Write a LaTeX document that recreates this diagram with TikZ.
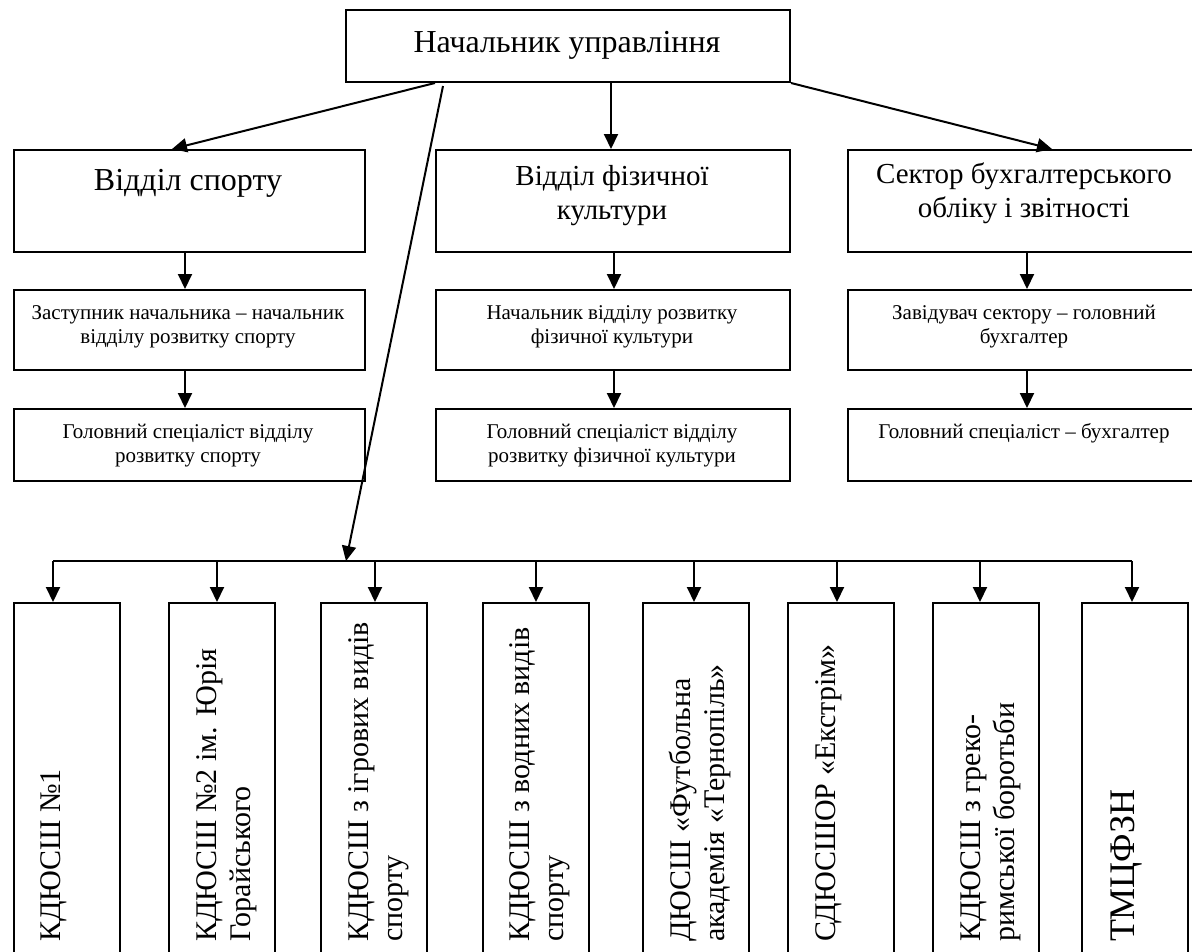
\documentclass[tikz,border=0pt]{standalone}
\usepackage{fontspec}
\setmainfont{Liberation Serif}
\usetikzlibrary{arrows.meta}
\newcommand\lnup{\rule{0pt}{0.9em}}
\begin{document}
\begin{tikzpicture}[x=1pt,y=-1pt,
  box/.style 2 args={draw, line width=2pt, anchor=north west, inner sep=0pt, minimum width=#1, minimum height=#2},
  conn/.style={line width=2pt},
  arr/.style={conn, -{Triangle[length=15pt,width=14pt]}},
  lbl/.style={inner sep=0pt, anchor=north, align=center},
  vlbl/.style={inner sep=0pt, anchor=north west, align=left, rotate=90},
  fA/.style={font=\fontsize{32}{36}\selectfont},
  fB/.style={font=\fontsize{29}{34.5}\selectfont},
  fC/.style={font=\fontsize{21}{24.5}\selectfont},
  fD/.style={font=\fontsize{30}{34}\selectfont},
  fE/.style={font=\fontsize{36}{40}\selectfont},
]
\path[use as bounding box] (0,0) rectangle (1192,951);
\clip (0,0) rectangle (1192,951);

% top
\node[box={444pt}{72pt}] (top) at (345,9) {};
\node[lbl,fA] (topt) at (567,23.2) {\lnup Начальник управління};

% level 2
\node[box={351pt}{102pt}] (d1) at (12.6,149) {};
\node[box={354pt}{102pt}] (d2) at (435,149) {};
\node[box={354pt}{102pt}] (d3) at (847,149) {};
\node[lbl,fA] (d1t) at (188,161.2) {\lnup Відділ спорту};
\node[lbl,fB] (d2t) at (612,158.9) {\lnup Відділ фізичної\\культури};
\node[lbl,fB] (d3t) at (1024,156.9) {\lnup Сектор бухгалтерського\\обліку і звітності};

% level 3
\node[box={351pt}{80pt}] (e1) at (12.6,289) {};
\node[box={354pt}{80pt}] (e2) at (435,289) {};
\node[box={354pt}{80pt}] (e3) at (847,289) {};
\node[lbl,fC] (e1t) at (188,300.1) {\lnup Заступник начальника – начальник\\відділу розвитку спорту};
\node[lbl,fC] (e2t) at (612,300.1) {\lnup Начальник відділу розвитку\\фізичної культури};
\node[lbl,fC] (e3t) at (1024,300.1) {\lnup Завідувач сектору – головний\\бухгалтер};

% level 4
\node[box={351pt}{72pt}] (g1) at (12.6,408) {};
\node[box={354pt}{72pt}] (g2) at (435,408) {};
\node[box={354pt}{72pt}] (g3) at (847,408) {};
\node[lbl,fC] (g1t) at (188,419.1) {\lnup Головний спеціаліст відділу\\розвитку спорту};
\node[lbl,fC] (g2t) at (612,419.1) {\lnup Головний спеціаліст відділу\\розвитку фізичної культури};
\node[lbl,fC] (g3t) at (1024,419.1) {\lnup Головний спеціаліст – бухгалтер};

% bottom boxes
\node[box={106pt}{360pt}] (k1) at (12.7,602) {};
\node[box={106pt}{360pt}] (k2) at (168,602) {};
\node[box={106pt}{360pt}] (k3) at (320,602) {};
\node[box={106pt}{360pt}] (k4) at (481.7,602) {};
\node[box={106pt}{360pt}] (k5) at (642,602) {};
\node[box={106pt}{360pt}] (k6) at (787,602) {};
\node[box={106pt}{360pt}] (k7) at (932,602) {};
\node[box={106pt}{360pt}] (k8) at (1081,602) {};

\node[vlbl,fD] (k1t) at (33.7,942) {\lnup КДЮСШ №1};
\node[vlbl,fD] (k2t) at (189,942) {\lnup КДЮСШ №2 ім. Юрія\\Горайського};
\node[vlbl,fD] (k3t) at (341,942) {\lnup КДЮСШ з ігрових видів\\спорту};
\node[vlbl,fD] (k4t) at (502.7,942) {\lnup КДЮСШ з водних видів\\спорту};
\node[vlbl,fD] (k5t) at (663,942) {\lnup ДЮСШ «Футбольна\\академія «Тернопіль»};
\node[vlbl,fD] (k6t) at (808,942) {\lnup СДЮСШОР «Екстрім»};
\node[vlbl,fD] (k7t) at (953,942) {\lnup КДЮСШ з греко-\\римської боротьби};
\node[vlbl,fE] (k8t) at (1102,942) {\lnup ТМЦФЗН};

% connectors from top
\draw[arr] ([xshift=90pt]top.south west) -- ([xshift=159.4pt]d1.north west);
\coordinate (tm) at ([xshift=266pt]top.south west);
\draw[arr] (tm) -- (tm |- d2.north);
\draw[arr] (top.south east) -- ([xshift=205pt]d3.north west);
\coordinate (ts) at ([xshift=98pt,yshift=-3pt]top.south west);
\coordinate (hub) at (346,561);
\draw[arr] (ts) -- (hub);

% vertical chains
\coordinate (c1) at ([xshift=172.4pt]d1.south west);
\coordinate (c2) at ([xshift=179pt]d2.south west);
\coordinate (c3) at ([xshift=180pt]d3.south west);
\draw[arr] (c1) -- (c1 |- e1.north);
\draw[arr] (c2) -- (c2 |- e2.north);
\draw[arr] (c3) -- (c3 |- e3.north);
\coordinate (f1) at ([xshift=172.4pt]e1.south west);
\coordinate (f2) at ([xshift=179pt]e2.south west);
\coordinate (f3) at ([xshift=180pt]e3.south west);
\draw[arr] (f1) -- (f1 |- g1.north);
\draw[arr] (f2) -- (f2 |- g2.north);
\draw[arr] (f3) -- (f3 |- g3.north);

% bus
\coordinate (a1) at (53,561);
\coordinate (a2) at (217,561);
\coordinate (a3) at (375,561);
\coordinate (a4) at (536,561);
\coordinate (a5) at (694,561);
\coordinate (a6) at (837,561);
\coordinate (a7) at (980,561);
\coordinate (a8) at (1132,561);
\draw[conn] (a1) -- (a8);
\foreach \i in {1,...,8} {
  \draw[arr] (a\i) -- (a\i |- k\i.north);
}
\end{tikzpicture}
\end{document}
